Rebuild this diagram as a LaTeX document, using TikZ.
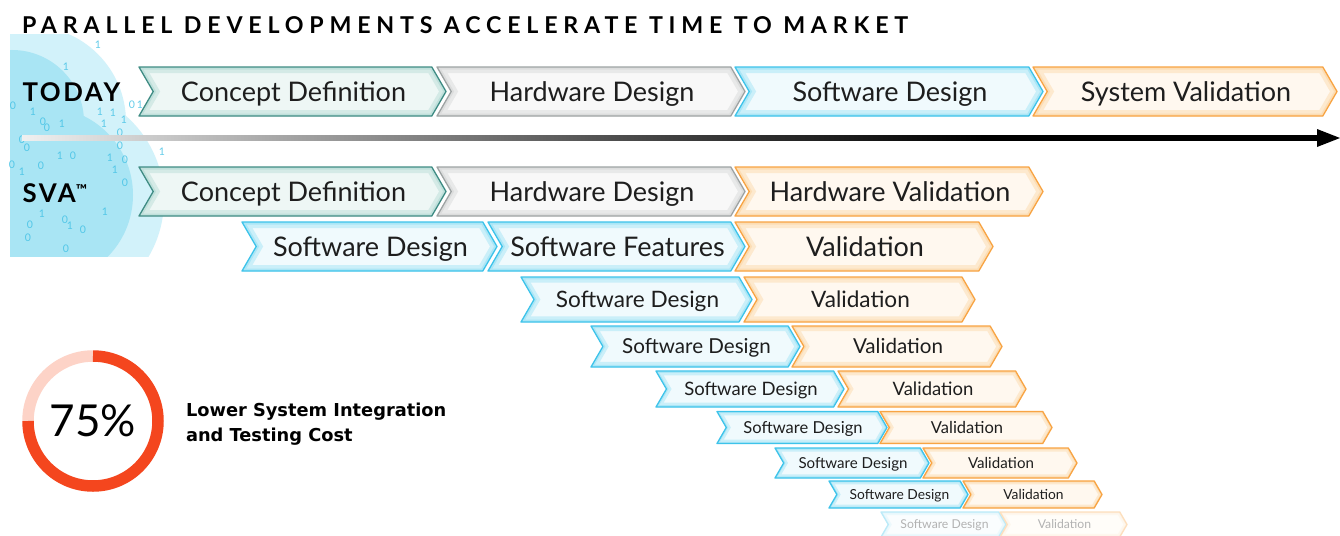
\documentclass[tikz,border=0pt]{standalone}
\usepackage{fontspec}
\setmainfont{Lato}
\newfontfamily\headfont[LetterSpace=25]{Lato}
\newfontfamily\tagfont[LetterSpace=10]{Lato}
\newfontfamily\notefont{DejaVu Sans}
\usetikzlibrary{arrows.meta}

% colour sets: B = border, G = inner glow, F = fill, T = text
\definecolor{txt}{HTML}{1E1E1E}
\definecolor{cdB}{HTML}{3F8C84}\definecolor{cdG}{HTML}{BFE0DB}\definecolor{cdF}{HTML}{EEF7F5}\colorlet{cdT}{txt}
\definecolor{hdB}{HTML}{9EA3A3}\definecolor{hdG}{HTML}{DCDDDD}\definecolor{hdF}{HTML}{F8F8F8}\colorlet{hdT}{txt}
\definecolor{sdB}{HTML}{3DC3EA}\definecolor{sdG}{HTML}{ABE6F6}\definecolor{sdF}{HTML}{F0FAFD}\colorlet{sdT}{txt}
\definecolor{vB}{HTML}{F8A443}\definecolor{vG}{HTML}{FCDDB4}\definecolor{vF}{HTML}{FFF8EF}\colorlet{vT}{txt}
\colorlet{sdxB}{sdB!35!white}\colorlet{sdxG}{sdG!35!white}\colorlet{sdxF}{sdF!35!white}\colorlet{sdxT}{black!30}
\colorlet{vxB}{vB!35!white}\colorlet{vxG}{vG!35!white}\colorlet{vxF}{vF!35!white}\colorlet{vxT}{black!30}
\definecolor{cloudA}{HTML}{D2F2FA}
\definecolor{cloudB}{HTML}{A9E5F4}
\definecolor{bits}{HTML}{3CBFE4}
\definecolor{ringred}{HTML}{F4461E}
\definecolor{ringpale}{HTML}{FDD3C7}

\pgfdeclarehorizontalshading{timeline}{100bp}{color(0bp)=(black!6); color(25bp)=(black!6);
  color(35bp)=(black!35); color(50bp)=(black!75); color(62bp)=(black); color(100bp)=(black)}

\tikzset{
  lbl/.style={inner sep=0pt, outer sep=0pt},
  bit/.style={text=bits, font=\fontsize{10.5}{10.5}\selectfont, inner sep=0pt, opacity=.8},
}

% one chevron outline, from the current geometry macros
\newcommand\chevpath[1]{\path[#1] (\chx,\cht) -- (\chr,\cht) -- (\chtip,\chm) -- (\chr,\chb) -- (\chx,\chb) -- (\chl,\chm) -- cycle;}

% #1 name, #2 left x, #3 tip x, #4 mid y, #5 height, #6 colour set, #7 font size, #8 label
\newcommand\chev[8]{%
  \pgfmathsetmacro\chd{0.29*#5}%
  \pgfmathsetmacro\cht{#4-#5/2}%
  \pgfmathsetmacro\chb{#4+#5/2}%
  \pgfmathsetmacro\chr{#3-\chd}%
  \pgfmathsetmacro\chl{#2+\chd}%
  \pgfmathsetmacro\chgA{12*#5/49}%
  \pgfmathsetmacro\chgB{5*#5/49}%
  \def\chx{#2}\def\chtip{#3}\def\chm{#4}%
  \begin{scope}
    \chevpath{clip}
    \chevpath{fill=#6F}
    \chevpath{draw=#6G, line width=\chgA pt, opacity=.55}
    \chevpath{draw=#6G, line width=\chgB pt}
  \end{scope}
  \chevpath{draw=#6B, line width=1.3pt, line join=round}
  \node[lbl, text=#6T, font=\fontsize{#7}{#7}\selectfont, anchor=base]
    (#1) at ({(#2+#3)/2+1}, {#4+0.358*#7}) {#8};
}

\begin{document}
\begin{tikzpicture}[x=1pt, y=-1pt]
\useasboundingbox (0,0) rectangle (1340,535);
\fill[white] (0,0) rectangle (1340,535);

% cloud of binary data behind the row titles
\begin{scope}
  \clip (10,35) rectangle (230,256);
  \fill[cloudA] (30,122) circle[radius=96];
  \fill[cloudA] (52,200) circle[radius=112];
  \fill[cloudB] (12,122) circle[radius=72];
  \fill[cloudB] (45,195) circle[radius=88];
\end{scope}
\foreach \p/\b [count=\i] in {
  {(13,106)}/0, {(33,112)}/1, {(98,45)}/1, {(66,67)}/1, {(43,122)}/0, {(47,128)}/0, {(62,124)}/1,
  {(100,112)}/1, {(113,113)}/1, {(132,105)}/0, {(140,105)}/1, {(104,124)}/1, {(124,120)}/1,
  {(120,133)}/0, {(22,140)}/0, {(27,148)}/0, {(60,156)}/1, {(73,156)}/0, {(110,158)}/1,
  {(120,146)}/0, {(125,160)}/0, {(162,152)}/1, {(41,166)}/0, {(22,172)}/1, {(115,170)}/1,
  {(125,183)}/0, {(105,212)}/1, {(42,214)}/1, {(30,225)}/0, {(65,220)}/0,
  {(70,226)}/1, {(83,230)}/0, {(28,238)}/0, {(66,249)}/0, {(12,165)}/0}
  \node[bit] (bit\i) at \p {\b};

% time line
\fill[shading=timeline] (22,135.8) rectangle (1320,140.3);
\fill[black] (1317,129) -- (1340,138) -- (1317,147) -- cycle;

% title and row tags
\node[lbl, anchor=base west, font=\headfont\bfseries\fontsize{23.2}{24}\selectfont]
  (title) at (22,33.4) {PARALLEL DEVELOPMENTS ACCELERATE TIME TO MARKET};
\node[lbl, anchor=base west, font=\tagfont\bfseries\fontsize{25.8}{26}\selectfont]
  (today) at (22.5,101.5) {TODAY};
\node[lbl, anchor=base west, font=\tagfont\bfseries\fontsize{25.8}{26}\selectfont]
  (sva) at (22.5,202.7) {SVA\raisebox{7.5pt}{\fontsize{15}{15}\selectfont ™}};

% today: sequential flow
\chev{t1}{139}{446}{91.5}{49}{cd}{27}{Concept Definition}
\chev{t2}{437}{745}{91.5}{49}{hd}{27}{Hardware Design}
\chev{t3}{735}{1043}{91.5}{49}{sd}{27}{Software Design}
\chev{t4}{1033}{1337}{91.5}{49}{v}{27}{System Validation}

% SVA: parallel flow
\chev{s1}{139}{446}{191.5}{49}{cd}{27}{Concept Definition}
\chev{s2}{437}{745}{191.5}{49}{hd}{27}{Hardware Design}
\chev{s3}{735}{1043}{191.5}{49}{v}{27}{Hardware Validation}

\chev{r3a}{242}{497}{246.5}{49}{sd}{27}{Software Design}
\chev{r3b}{488}{745}{246.5}{49}{sd}{27}{Software Features}
\chev{r3c}{735}{993}{246.5}{49}{v}{27}{Validation}

\chev{r4a}{521}{752}{299.5}{45}{sd}{22.6}{Software Design}
\chev{r4b}{744}{975}{299.5}{45}{v}{22.6}{Validation}

\chev{r5a}{591}{800}{346.5}{41}{sd}{20.6}{Software Design}
\chev{r5b}{792}{1002}{346.5}{41}{v}{20.6}{Validation}

\chev{r6a}{656}{844}{389}{36}{sd}{18.5}{Software Design}
\chev{r6b}{838}{1026}{389}{36}{v}{18.5}{Validation}

\chev{r7a}{717}{887}{427.5}{32}{sd}{16.5}{Software Design}
\chev{r7b}{880}{1052}{427.5}{32}{v}{16.5}{Validation}

\chev{r8a}{775}{929}{463}{30}{sd}{15.1}{Software Design}
\chev{r8b}{923}{1077}{463}{30}{v}{15.1}{Validation}

\chev{r9a}{829}{968}{494.5}{27}{sd}{13.8}{Software Design}
\chev{r9b}{963}{1102}{494.5}{27}{v}{13.8}{Validation}

\chev{r10a}{881}{1006}{524.5}{25}{sdx}{12.2}{Software Design}
\chev{r10b}{1000}{1127}{524.5}{25}{vx}{12.2}{Validation}

% cost ring
\draw[ringpale, line width=11.5pt] (93,421) ++(180:65) arc[start angle=180, end angle=270, radius=65];
\draw[ringred, line width=11.5pt] (93,421) ++(270:65) arc[start angle=270, end angle=540, radius=65];
\node[lbl, font=\fontsize{44}{44}\selectfont, text=black] (pct) at (93,421) {75\%};
\node[lbl, anchor=base west, align=left, font=\notefont\bfseries\fontsize{17.8}{25}\selectfont, text=black]
  (cost) at (186,441) {Lower System Integration\\and Testing Cost};
\end{tikzpicture}
\end{document}
